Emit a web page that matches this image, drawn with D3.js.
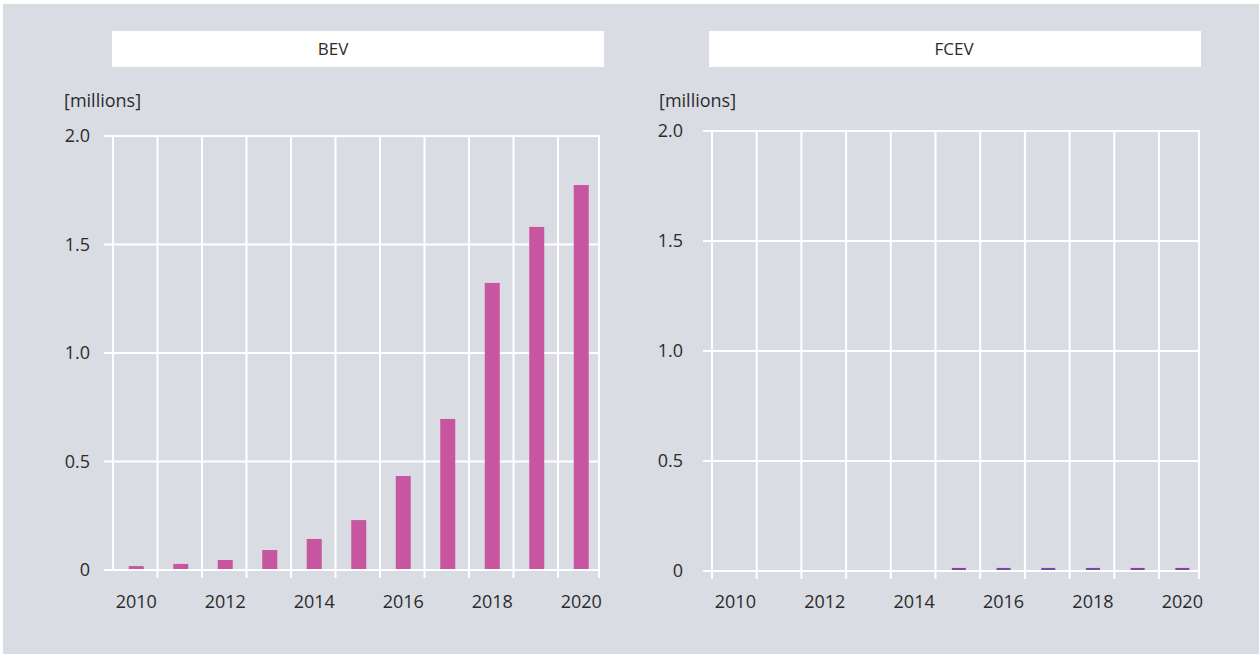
<!DOCTYPE html>
<html>
<head>
<meta charset="utf-8">
<script src="https://cdn.jsdelivr.net/npm/d3@7"></script>
<style>
  html, body { margin: 0; padding: 0; background: #ffffff; }
  svg { display: block; font-family: "Open Sans", sans-serif; }
</style>
</head>
<body>
<svg id="chart" width="1259" height="654"></svg>
<script>
// ---- data ----
const years = [2010, 2011, 2012, 2013, 2014, 2015, 2016, 2017, 2018, 2019, 2020];
const bevValues = [0.018, 0.028, 0.046, 0.092, 0.143, 0.230, 0.433, 0.696, 1.323, 1.581, 1.774];
const fcevValues = [0, 0, 0, 0, 0, 0.014, 0.014, 0.014, 0.014, 0.014, 0.014];
const yTicks = [0, 0.5, 1.0, 1.5, 2.0];
const yTickLabels = ["0", "0.5", "1.0", "1.5", "2.0"];
const xTickYears = [2010, 2012, 2014, 2016, 2018, 2020];
const panelTitles = ["BEV", "FCEV"];
const unitLabel = "[millions]";

// ---- layout ----
const W = 1259, H = 654;
const svg = d3.select("#chart");
const textColor = "#2b2b2b";
const fs = 18;

svg.append("rect").attr("x", 3).attr("y", 4).attr("width", W - 3).attr("height", H - 4)
  .attr("fill", "#d9dce3");

const panels = [
  { title: panelTitles[0], values: bevValues, color: "#c7559f",
    boxX: 112, boxW: 492, titleX: 333,
    left: 113, right: 599, range: [113, 602.5], top: 136, bottom: 570,
    labelX: 90, unitX: 64, barW: 15, firstTick: false },
  { title: panelTitles[1], values: fcevValues, color: "#7b46a8",
    boxX: 709, boxW: 492, titleX: 954,
    left: 712, right: 1199, range: [712, 1203.7], top: 131, bottom: 571,
    labelX: 683, unitX: 659, barW: 14, firstTick: true }
];

panels.forEach(p => {
  const g = svg.append("g");

  // title box
  g.append("rect").attr("x", p.boxX).attr("y", 31).attr("width", p.boxW).attr("height", 36)
    .attr("fill", "#ffffff");
  g.append("text").attr("x", p.titleX).attr("y", 55).attr("text-anchor", "middle")
    .attr("font-size", 17).attr("fill", textColor).text(p.title);

  // unit label
  g.append("text").attr("x", p.unitX).attr("y", 107).attr("font-size", fs)
    .attr("fill", textColor).text(unitLabel);

  const x = d3.scaleBand().domain(years).range(p.range).padding(0);
  const y = d3.scaleLinear().domain([0, 2]).range([p.bottom, p.top]);

  // horizontal grid lines
  g.selectAll(".hgrid").data(yTicks).join("line")
    .attr("x1", p.left - 9).attr("x2", p.right + 1)
    .attr("y1", d => y(d)).attr("y2", d => y(d))
    .attr("stroke", "#ffffff").attr("stroke-width", 2);

  // vertical grid lines at band boundaries (+ right edge)
  const vx = years.map(yr => x(yr)).concat([p.right]);
  g.selectAll(".vgrid").data(vx).join("line")
    .attr("x1", d => d).attr("x2", d => d)
    .attr("y1", y(2))
    .attr("y2", (d, i) => (i === 0 && !p.firstTick) ? y(0) : y(0) + 8)
    .attr("stroke", "#ffffff").attr("stroke-width", 2);

  // y tick labels
  g.selectAll(".ylab").data(yTicks).join("text")
    .attr("x", p.labelX).attr("y", d => y(d) + 6)
    .attr("text-anchor", "end").attr("font-size", fs).attr("fill", textColor)
    .text((d, i) => yTickLabels[i]);

  // x tick labels
  g.selectAll(".xlab").data(xTickYears).join("text")
    .attr("x", d => x(d) + x.bandwidth() / 2 + 1).attr("y", 608)
    .attr("text-anchor", "middle").attr("font-size", fs).attr("fill", textColor)
    .text(d => d);

  // bars
  g.selectAll(".bar").data(years.map((yr, i) => ({ yr, v: p.values[i] })).filter(d => d.v > 0))
    .join("rect")
    .attr("x", d => x(d.yr) + x.bandwidth() / 2 - p.barW / 2 + 1)
    .attr("width", p.barW)
    .attr("y", d => y(d.v))
    .attr("height", d => y(0) - y(d.v) - 1)
    .attr("fill", p.color);
});
</script>
</body>
</html>
